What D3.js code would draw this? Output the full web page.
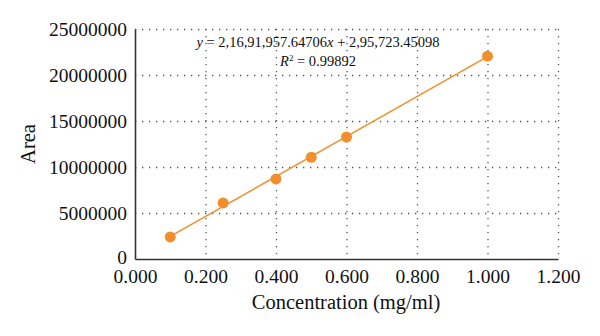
<!DOCTYPE html>
<html>
<head>
<meta charset="utf-8">
<script src="https://cdn.jsdelivr.net/npm/d3@7"></script>
<style>
	body { margin: 0; background: #fff; }
	svg text { font-family: "Liberation Serif", "DejaVu Serif", serif; fill: #111; }
</style>
</head>
<body>
<svg id="chart" width="600" height="336"></svg>
<script>
// data
var concentration = [0.1, 0.25, 0.4, 0.5, 0.6, 1.0];
var area = [2400000, 6100000, 8700000, 11050000, 13250000, 22050000];
var xTicks = [0, 0.2, 0.4, 0.6, 0.8, 1.0, 1.2];
var yTicks = [0, 5000000, 10000000, 15000000, 20000000, 25000000];
var slope = 21691957.64706, intercept = 295723.45098;

var svg = d3.select("#chart"),
	margin = {left: 135, right: 42, top: 29, bottom: 77},
	width = 600 - margin.left - margin.right,
	height = 336 - margin.top - margin.bottom;

var x = d3.scaleLinear().domain([0, 1.2]).range([0, width]);
var y = d3.scaleLinear().domain([0, 25000000]).range([height, 0]);

var g = svg.append("g").attr("transform", "translate(" + margin.left + "," + margin.top + ")");

// dotted grid
g.append("g").attr("class", "grid")
	.call(d3.axisLeft(y).tickValues(yTicks.slice(1)).tickSize(-width).tickFormat(""))
	.call(s => s.select(".domain").remove());
g.append("g").attr("class", "grid vgrid")
	.call(d3.axisTop(x).tickValues(xTicks.slice(1)).tickSize(-height).tickFormat(""))
	.call(s => s.select(".domain").remove());
g.selectAll(".grid line")
	.attr("stroke", "#555")
	.attr("stroke-width", 1.3)
	.attr("stroke-dasharray", "1.3,5.7");

// axes
var yAxis = g.append("g")
	.call(d3.axisLeft(y).tickValues(yTicks).tickSize(0).tickPadding(8).tickFormat(d3.format("d")));
var xAxis = g.append("g")
	.attr("transform", "translate(0," + height + ")")
	.call(d3.axisBottom(x).tickValues(xTicks).tickSize(0).tickPadding(10).tickFormat(d3.format(".3f")));
[xAxis, yAxis].forEach(a => {
	a.select(".domain").attr("stroke", "#333").attr("stroke-width", 1.6);
	a.selectAll("text").style("font-size", "19.5px").style("font-family", "Liberation Serif, serif").attr("fill", "#111");
});
// lift the "0" a little so it clears "0.000"
yAxis.selectAll(".tick text").filter(d => d === 0).attr("dy", "0.22em");

// trendline
var xr = d3.extent(concentration);
g.append("line")
	.attr("x1", x(xr[0])).attr("y1", y(slope * xr[0] + intercept))
	.attr("x2", x(xr[1])).attr("y2", y(slope * xr[1] + intercept))
	.attr("stroke", "#f28e2b").attr("stroke-width", 1.5);

// points
g.selectAll("circle.pt")
	.data(concentration.map((c, i) => ({c: c, a: area[i]}))).enter()
	.append("circle").attr("class", "pt")
	.attr("cx", d => x(d.c)).attr("cy", d => y(d.a))
	.attr("r", 5.5)
	.attr("fill", "#f28e2b");

// equation
var eq = svg.append("text").attr("x", 318).attr("y", 47).attr("text-anchor", "middle").style("font-size", "14.5px");
eq.append("tspan").attr("font-style", "italic").text("y");
eq.append("tspan").text(" = 2,16,91,957.64706");
eq.append("tspan").attr("font-style", "italic").text("x");
eq.append("tspan").text(" + 2,95,723.45098");
var r2 = svg.append("text").attr("x", 318).attr("y", 66).attr("text-anchor", "middle").style("font-size", "14.5px");
r2.append("tspan").attr("font-style", "italic").text("R");
r2.append("tspan").attr("dy", -5).style("font-size", "9px").text("2");
r2.append("tspan").attr("dy", 5).text(" = 0.99892");

// axis titles
svg.append("text").attr("x", 346).attr("y", 309).attr("text-anchor", "middle")
	.style("font-size", "20.5px").text("Concentration (mg/ml)");
svg.append("text").attr("transform", "translate(35,144)rotate(-90)").attr("text-anchor", "middle")
	.style("font-size", "20.5px").text("Area");
</script>
</body>
</html>
